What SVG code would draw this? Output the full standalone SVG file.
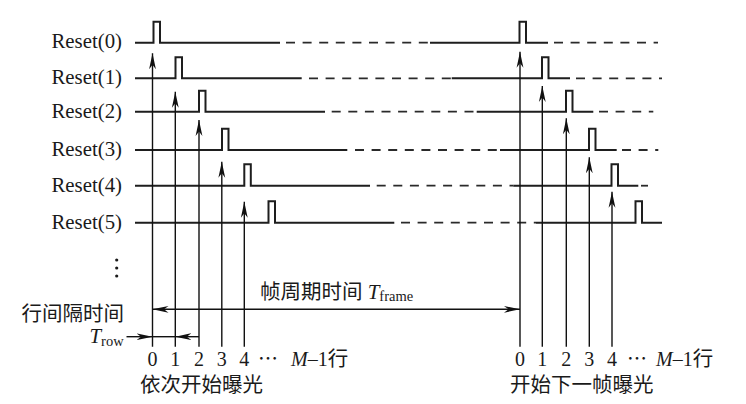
<svg xmlns="http://www.w3.org/2000/svg" width="746" height="404" viewBox="0 0 746 404">
<defs>
<marker id="ah" viewBox="-16 -4 17 8" refX="0" refY="0" markerWidth="17" markerHeight="8" orient="auto-start-reverse" markerUnits="userSpaceOnUse">
<path d="M0,0 L-16,-3.4 L-11.5,0 L-16,3.4 Z" fill="#111"/>
</marker>
<style>
.sig{fill:none;stroke:#1e1e1e;stroke-width:2;stroke-linejoin:miter}
.dash{fill:none;stroke:#2a2a2a;stroke-width:1.8;stroke-dasharray:9 7.6}
.v{stroke:#111;stroke-width:1.4;fill:none}
.arr{stroke:#111;stroke-width:1.4;fill:none;marker-end:url(#ah)}
.lbl{font-family:'Liberation Serif','Noto Sans CJK SC',serif;font-size:20.8px;fill:#1a1a1a}
.num{font-family:'Liberation Serif','Noto Sans CJK SC',serif;font-size:20px;fill:#1a1a1a;text-anchor:middle}
.mrow{font-family:'Liberation Serif','Noto Sans CJK SC',serif;font-size:20px;fill:#1a1a1a;text-anchor:start}
.cn{font-family:'Liberation Serif','Noto Sans CJK SC',sans-serif;font-size:20.5px;fill:#1a1a1a}
.it{font-style:italic}
</style>
</defs>

<g id="labels">
<text class="lbl" x="51.5" y="48">Reset(0)</text>
<text class="lbl" x="51.5" y="84">Reset(1)</text>
<text class="lbl" x="51.5" y="117.5">Reset(2)</text>
<text class="lbl" x="51.5" y="156">Reset(3)</text>
<text class="lbl" x="51.5" y="191.5">Reset(4)</text>
<text class="lbl" x="51.5" y="228.5">Reset(5)</text>
<circle cx="116.7" cy="260" r="1.6" fill="#1a1a1a"/>
<circle cx="116.7" cy="268" r="1.6" fill="#1a1a1a"/>
<circle cx="116.7" cy="276" r="1.6" fill="#1a1a1a"/>
</g>

<g id="row0">
<path class="sig" d="M135,42.7 H153.5 V21.7 H160 V42.7 H280"/>
<path class="dash" d="M286,42.7 H430"/>
<path class="sig" d="M430,42.7 H519.5 V21.7 H526 V42.7 H548"/>
<path class="dash" d="M554,42.7 H658"/>
</g>
<g id="row1">
<path class="sig" d="M135,78.3 H175.5 V57.3 H182 V78.3 H301.7"/>
<path class="dash" d="M309,78.3 H451.7"/>
<path class="sig" d="M451.7,78.3 H542 V57.3 H548.5 V78.3 H570"/>
<path class="dash" d="M576,78.3 H662"/>
</g>
<g id="row2">
<path class="sig" d="M135,111.7 H199 V90.7 H205.5 V111.7 H325"/>
<path class="dash" d="M331.7,111.7 H476.7"/>
<path class="sig" d="M476.7,111.7 H566 V90.7 H572.5 V111.7 H593.3"/>
<path class="dash" d="M599,111.7 H653.3"/>
</g>
<g id="row3">
<path class="sig" d="M135,150 H222 V128.7 H228.5 V150 H347.3"/>
<path class="dash" d="M355,150 H500"/>
<path class="sig" d="M500,150 H589 V128.7 H595.5 V150 H616.7"/>
<path class="dash" d="M622,150 H658.3"/>
</g>
<g id="row4">
<path class="sig" d="M135,185.7 H244.3 V164.3 H250.8 V185.7 H370"/>
<path class="dash" d="M376.7,185.7 H513.3"/>
<path class="sig" d="M513.3,185.7 H611.5 V164.3 H618 V185.7 H638.3"/>
<path class="dash" d="M641,185.7 H648"/>
</g>
<g id="row5">
<path class="sig" d="M135,222.7 H268.5 V201.3 H275 V222.7 H394.3"/>
<path class="dash" d="M401,222.7 H536"/>
<path class="sig" d="M536,222.7 H635.5 V201.3 H642 V222.7 H662"/>
</g>

<g id="connectors">
<line class="arr" x1="152.5" y1="346.7" x2="152.5" y2="53.3"/>
<line class="arr" x1="175.3" y1="346.7" x2="175.3" y2="91.7"/>
<line class="arr" x1="199" y1="346.7" x2="199" y2="120"/>
<line class="arr" x1="221.8" y1="346.7" x2="221.8" y2="161.7"/>
<line class="arr" x1="244.3" y1="346.7" x2="244.3" y2="201.7"/>
<line class="arr" x1="520" y1="346.7" x2="520" y2="51.7"/>
<line class="arr" x1="542.3" y1="346.7" x2="542.3" y2="86"/>
<line class="arr" x1="566.3" y1="346.7" x2="566.3" y2="118.3"/>
<line class="arr" x1="589.3" y1="346.7" x2="589.3" y2="157.3"/>
<line class="arr" x1="612" y1="346.7" x2="612" y2="191.7"/>
<line class="v" x1="152.5" y1="309.3" x2="520" y2="309.3" marker-start="url(#ah)" marker-end="url(#ah)"/>
<line class="arr" x1="126.5" y1="336.7" x2="152.5" y2="336.7"/>
<line class="v" x1="152.5" y1="336.7" x2="175.3" y2="336.7"/>
<line class="arr" x1="199" y1="336.7" x2="175.3" y2="336.7"/>
</g>

<g id="annotations">
<text class="cn" x="260" y="299">帧周期时间 <tspan class="it" font-family="'Liberation Serif',serif" font-size="21">T</tspan><tspan font-family="'Liberation Serif',serif" font-size="14.5" dy="2">frame</tspan></text>
<text class="cn" x="21.5" y="321">行间隔时间</text>
<text class="lbl" x="89.5" y="343"><tspan class="it">T</tspan><tspan font-size="14.5" dy="2.5">row</tspan></text>
</g>

<g id="axis-left">
<text class="num" x="152.5" y="366">0</text>
<text class="num" x="175.3" y="366">1</text>
<text class="num" x="199" y="366">2</text>
<text class="num" x="221.8" y="366">3</text>
<text class="num" x="244.3" y="366">4</text>
<text class="num" x="268" y="366" font-size="22">⋯</text>
<text class="mrow" x="291" y="366"><tspan class="it">M</tspan>–1<tspan font-family="'Noto Sans CJK SC',sans-serif" font-size="20.5">行</tspan></text>
<text class="cn" x="140" y="392">依次开始曝光</text>
</g>

<g id="axis-right">
<text class="num" x="520" y="366">0</text>
<text class="num" x="542.3" y="366">1</text>
<text class="num" x="566.3" y="366">2</text>
<text class="num" x="589.3" y="366">3</text>
<text class="num" x="612" y="366">4</text>
<text class="num" x="637" y="366" font-size="22">⋯</text>
<text class="mrow" x="656" y="366"><tspan class="it">M</tspan>–1<tspan font-family="'Noto Sans CJK SC',sans-serif" font-size="20.5">行</tspan></text>
<text class="cn" x="510" y="392">开始下一帧曝光</text>
</g>
</svg>
